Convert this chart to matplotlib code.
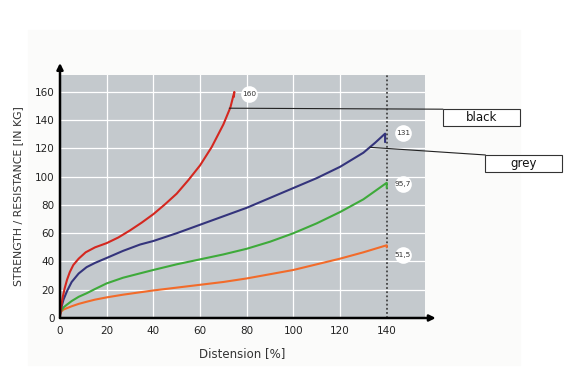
import matplotlib
matplotlib.use("Agg")
import matplotlib.pyplot as plt
from matplotlib.patches import Rectangle

# strength vs distension
red_x = [0, 0.5, 1.2, 2, 3, 4.2, 5.7, 8, 11, 15, 20, 25, 30, 35, 40, 45, 50, 55, 60, 65, 70, 73, 74.7, 74.5]
red_y = [1, 8, 15, 21, 27, 32.5, 37.5, 42, 46.5, 50, 53, 57, 62, 67.5, 73.5, 80.5, 88, 97.6, 108, 121, 137, 149, 160, 156.5]

blue_x = [0, 0.5, 1.5, 3, 5, 8, 11.4, 15, 20, 27, 34.3, 40, 50, 60, 70, 80, 90, 100, 110, 120, 130, 135, 139.3, 139.3]
blue_y = [2, 7, 13, 19, 25.5, 31.5, 36, 39, 42.5, 47.5, 52, 54.5, 60, 66, 72, 78, 85, 92, 99, 107, 117, 124, 130.5, 124.5]

green_x = [0, 0.5, 1.5, 3, 5, 8, 11.4, 15, 20, 27, 34.3, 40, 50, 60, 70, 80, 90, 100, 110, 120, 130, 140, 140]
green_y = [3, 5, 7.5, 9.5, 12, 15, 17.5, 20.5, 24.5, 28.5, 31.6, 34, 38, 41.5, 45, 49, 54, 60, 67, 75, 84, 95.7, 92]

orange_x = [0, 0.5, 1.5, 3, 5, 8, 11.4, 15, 20, 27, 34.3, 40, 50, 60, 70, 80, 90, 100, 110, 120, 130, 140, 140]
orange_y = [3, 4.5, 6, 7, 8.3, 10, 11.5, 13, 14.6, 16.5, 18.2, 19.5, 21.5, 23.5, 25.5, 28, 31, 34, 38, 42, 46.5, 51.5, 50]

end_labels = ["160", "131", "95,7", "51,5"]
end_label_x = [81.1, 147.1, 146.9, 146.9]
end_label_y = [158.4, 130.8, 94.6, 44.6]

x_ticks = [0, 20, 40, 60, 80, 100, 120, 140]
y_ticks = [0, 20, 40, 60, 80, 100, 120, 140, 160]
limit_x = 140

callouts = ["black", "grey"]
callout_from = [(72.6, 148.5), (132.9, 120.8)]
callout_to = [(164, 147.8), (182.2, 115.4)]
callout_box = [(164, 135.9, 32.9, 11.9), (182.2, 103.4, 33.0, 12.0)]

fig = plt.figure(figsize=(5.7, 3.8), dpi=100)
fig.patch.set_facecolor("white")
fig.add_artist(Rectangle((28 / 570, 15 / 380), 492 / 570, 335 / 380,
                         transform=fig.transFigure, color="#fbfbfa", zorder=-5))

ax = fig.add_axes([60 / 570, 62 / 380, 365 / 570, 243 / 380])
ax.set_facecolor("#c4c9cd")
ax.set_xlim(0, 156.4)
ax.set_ylim(0, 172)

for v in x_ticks[1:-1]:
    ax.axvline(v, color="white", lw=0.9, zorder=1)
for v in y_ticks[1:]:
    ax.axhline(v, color="white", lw=0.9, zorder=1)
ax.axvline(limit_x, color="#444444", lw=1.3, ls=(0, (1, 1.3)), zorder=2)

style = dict(lw=1.5, zorder=3, solid_joinstyle="round", solid_capstyle="round")
ax.plot(orange_x, orange_y, color="#f26b2a", **style)
ax.plot(green_x, green_y, color="#3eaa3a", **style)
ax.plot(blue_x, blue_y, color="#34347c", **style)
ax.plot(red_x, red_y, color="#d4271f", **style)

for t, x, y in zip(end_labels, end_label_x, end_label_y):
    ax.plot(x, y, "o", ms=12, mfc="white", mec="none", zorder=4, clip_on=False)
    ax.text(x, y, t, fontsize=5.3, ha="center", va="center", color="#333333",
            zorder=5, clip_on=False)

for name, p0, p1, (bx, by, bw, bh) in zip(callouts, callout_from, callout_to, callout_box):
    ax.plot([p0[0], p1[0]], [p0[1], p1[1]], color="#222222", lw=0.8, zorder=4, clip_on=False)
    ax.add_patch(Rectangle((bx, by), bw, bh, facecolor="white", edgecolor="#333333",
                           lw=0.8, zorder=5, clip_on=False))
    ax.text(bx + bw / 2, by + bh / 2, name, fontsize=8.5, ha="center", va="center",
            color="#111111", zorder=6, clip_on=False)

for s in ax.spines.values():
    s.set_visible(False)
ax.set_xticks(x_ticks)
ax.set_yticks(y_ticks)
ax.tick_params(length=0, labelsize=7.5, colors="#222222", pad=6)
ax.tick_params(axis="y", pad=4)

# axes drawn as arrows
ax.annotate("", xy=(161, 0), xytext=(0, 0), xycoords="data",
            arrowprops=dict(arrowstyle="-|>", color="black", lw=1.8,
                            mutation_scale=9, shrinkA=0, shrinkB=0),
            annotation_clip=False, zorder=6)
ax.annotate("", xy=(0, 180.5), xytext=(0, 0), xycoords="data",
            arrowprops=dict(arrowstyle="-|>", color="black", lw=1.8,
                            mutation_scale=9, shrinkA=0, shrinkB=0),
            annotation_clip=False, zorder=6)

ax.set_xlabel("Distension [%]", fontsize=8.5, color="#333333", labelpad=8)
ax.set_ylabel("STRENGTH / RESISTANCE [IN KG]", fontsize=7.8, color="#333333", labelpad=8)

fig.savefig("out.png", dpi=100)
